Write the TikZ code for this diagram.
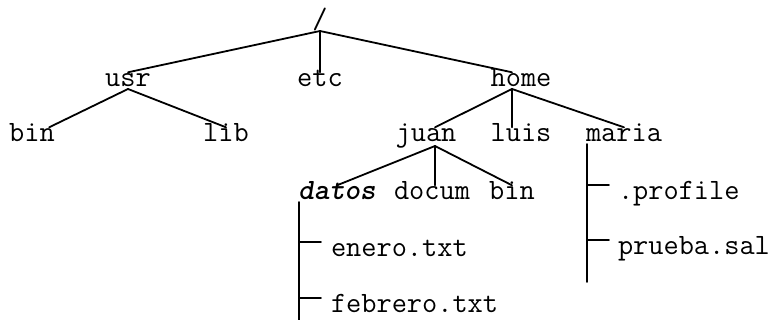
\documentclass[tikz,border=0pt]{standalone}
\usepackage{fontspec}
\usetikzlibrary{positioning}

\begin{document}
\begin{tikzpicture}[x=1pt, y=-1pt, line width=1.8pt,
  dir/.style={font=\ttfamily\fontsize{29.5}{32}\selectfont, inner sep=0pt, outer sep=2pt,
              text height=12.7pt, text depth=0pt, anchor=base},
  fil/.style={dir, anchor=base west},
  tree/.style={draw, line cap=round}]
\useasboundingbox (0,0) rectangle (777,320);

% directories
\node[dir] (root)  at (320,29)  {/};
\node[dir] (usr)   at (128,87)  {usr};
\node[dir] (etc)   at (320,87)  {etc};
\node[dir] (home)  at (521,87)  {home};
\node[dir] (bin)   at (32,142)  {bin};
\node[dir] (lib)   at (226,142) {lib};
\node[dir] (juan)  at (426,142) {juan};
\node[dir] (luis)  at (521,142) {luis};
\node[dir] (maria) at (624,142) {maria};
\node[dir] (datos) at (337,200) {\textbf{\textit{datos}}};
\node[dir] (docum) at (432,200) {docum};
\node[dir] (bin2)  at (512,200) {bin};

% files
\node[fil] (profile) at (616,200) {.profile};
\node[fil] (prueba)  at (616,255) {prueba.sal};
\node[fil] (enero)   at (329,257) {enero.txt};
\node[fil] (febrero) at (329,313) {febrero.txt};

\coordinate (home-top)  at ([xshift=-9pt]home.north);
\coordinate (home-fork) at ([xshift=-9pt]home.south);
\coordinate (juan-top)  at ([xshift=9pt]juan.north);
\coordinate (juan-fork) at ([xshift=9pt,yshift=-2pt]juan.south);
\coordinate (datos-end) at (299,320);
\coordinate (maria-end) at (587,282);

\path[tree]
(root.south) edge (usr.north)
             edge (etc.north)
             edge (home-top);
\path[tree]
(usr.south) edge (bin)
            edge (lib.north);
\path[tree]
(home-fork) edge (juan-top)
            edge (home-fork |- luis.north)
            edge (maria.north);
\path[tree]
(juan-fork) edge (datos.north)
            edge (juan-fork |- docum.north)
            edge (bin2.north);

% file lists
\draw[tree] (datos-end |- datos.south) -- (datos-end);
\path[tree]
(datos-end |- enero.north)   edge ([xshift=-8pt]enero.north west)
(datos-end |- febrero.north) edge ([xshift=-8pt]febrero.north west);
\draw[tree] (maria-end |- maria.south) -- (maria-end);
\path[tree]
(maria-end |- profile.north) edge ([xshift=-7pt]profile.north west)
(maria-end |- prueba.north)  edge ([xshift=-7pt]prueba.north west);
\end{tikzpicture}
\end{document}
